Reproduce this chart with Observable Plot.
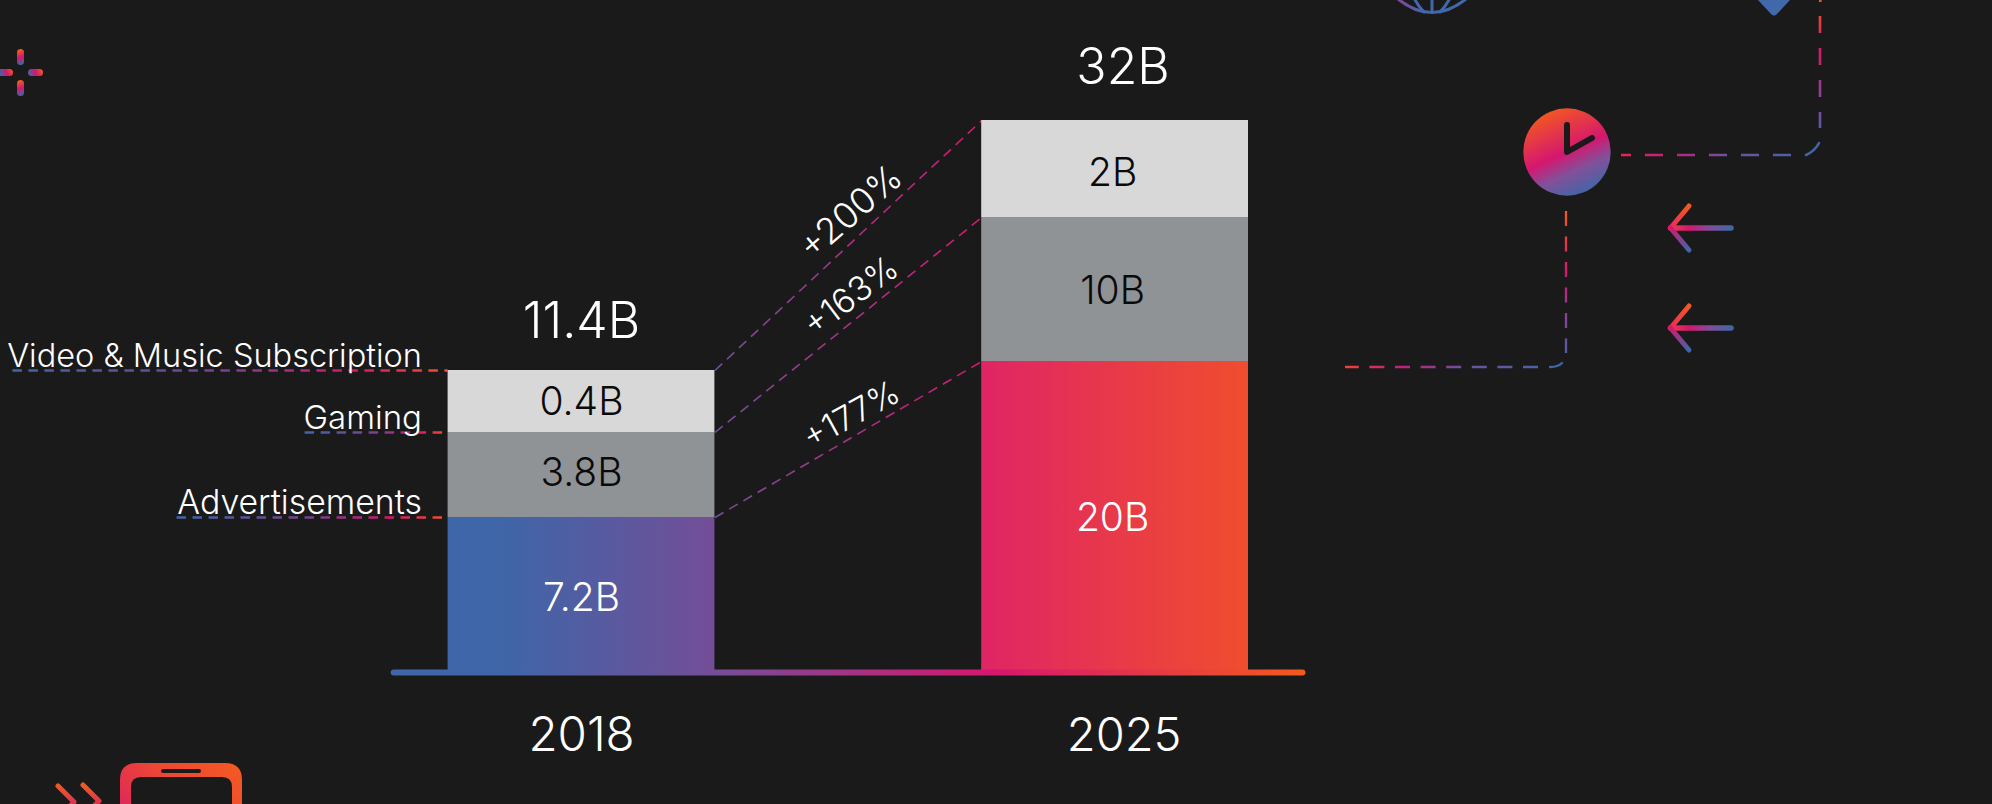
<!DOCTYPE html>
<html>
<head>
<meta charset="utf-8">
<script src="https://cdn.jsdelivr.net/npm/d3@7"></script>
<script src="https://cdn.jsdelivr.net/npm/@observablehq/plot@0.6"></script>
<style>
  html, body { margin: 0; padding: 0; background: #1a1a1a; overflow: hidden; }
  svg { display: block; }
</style>
</head>
<body>
<div id="chart"></div>
<script>
// ---- Data -------------------------------------------------------------
const years = [2018, 2025];
const totals = ["11.4B", "32B"];
const streams = ["Advertisements", "Gaming", "Video & Music Subscription"];
const values2018 = [7.2, 3.8, 0.4];
const values2025 = [20, 10, 2];
const labels2018 = ["7.2B", "3.8B", "0.4B"];
const labels2025 = ["20B", "10B", "2B"];
const growth = ["+177%", "+163%", "+200%"];

// The reference's bars are not to one linear scale: each step of the stack
// has its own slope, which this piecewise value axis reproduces.
const axisValues = [0, 7.2, 11, 11.4, 20, 30, 32];
const axisPixels = [672, 517, 432, 370, 361, 217, 120];

const FONT = "Inter, Lato, sans-serif";
const cum2018 = Array.from(d3.cumsum(values2018));
const cum2025 = Array.from(d3.cumsum(values2025));
const halfBar = 0.25;

const segments = [
  ...values2018.map((v, i) => ({slot: 0, y1: i ? cum2018[i - 1] : 0, y2: cum2018[i], label: labels2018[i], stream: i})),
  ...values2025.map((v, i) => ({slot: 1, y1: i ? cum2025[i - 1] : 0, y2: cum2025[i], label: labels2025[i], stream: i}))
];

// ---- Gradients ---------------------------------------------------------
const BLUE = "#3f66a8", PURPLE = "#744e98", MAGENTA = "#d5176f", ORANGE = "#f3591f";
function linear(id, x1, y1, x2, y2, stops) {
  const g = d3.create("svg:linearGradient").attr("id", id).attr("gradientUnits", "userSpaceOnUse")
    .attr("x1", x1).attr("y1", y1).attr("x2", x2).attr("y2", y2);
  stops.forEach(([o, c]) => g.append("stop").attr("offset", o).attr("stop-color", c));
  return g.node();
}
const defs = () => {
  const d = d3.create("svg:defs");
  const add = (...a) => d.append(() => linear(...a));
  add("gBar", 448, 0, 1248, 0, [[0, "#3e66a8"], [0.07, "#3f66a8"], [0.334, "#744e98"], [0.666, "#df2565"], [1, "#f04d2e"]]);
  add("gAxis", 391, 0, 1304, 0, [[0, BLUE], [0.12, BLUE], [0.355, PURPLE], [0.66, MAGENTA], [1, ORANGE]]);
  add("gConn", 715, 0, 981, 0, [[0, PURPLE], [1, "#d5176f"]]);
  const lead = [[0, BLUE], [0.5, "#7a3f92"], [0.78, MAGENTA], [1, "#f2502a"]];
  add("gLead2", 13, 0, 448, 0, lead);
  add("gLead1", 305, 0, 448, 0, lead);
  add("gLead0", 177, 0, 448, 0, lead);
  add("gClock", 1548, 110, 1586, 194, [[0, "#f3591f"], [0.5, MAGENTA], [0.72, "#82509a"], [1, "#3f66a8"]]);
  add("gPipeAV", 0, 0, 0, 150, [[0, "#f3591f"], [0.35, MAGENTA], [0.65, "#84459a"], [1, BLUE]]);
  add("gPipeAH", 1821, 0, 1621, 0, [[0, BLUE], [0.45, "#6b54a0"], [0.75, "#c0207c"], [1, "#e6264f"]]);
  add("gPipeBV", 0, 211, 0, 367, [[0, "#f3591f"], [0.4, MAGENTA], [0.7, "#84459a"], [1, BLUE]]);
  add("gPipeBH", 1566, 0, 1345, 0, [[0, BLUE], [0.45, "#6b54a0"], [0.75, "#c0207c"], [1, "#f0403a"]]);
  add("gArrowShaft", 1670, 0, 1733, 0, [[0, "#ee3d4c"], [0.3, MAGENTA], [0.65, "#7a4f9b"], [1, BLUE]]);
  [[228, "A"], [328, "B"]].forEach(([y, k]) => {
    add("gHeadUp" + k, 1689, y - 22, 1670, y, [[0, "#f3591f"], [1, "#ea2a5b"]]);
    add("gHeadDn" + k, 1670, y, 1689, y + 22, [[0, "#d5176f"], [1, BLUE]]);
  });
  add("gPhone", 125, 860, 240, 760, [[0, MAGENTA], [0.55, "#ee4635"], [1, "#f45a22"]]);
  add("gChev", 0, 785, 0, 815, [[0, "#f3591f"], [1, MAGENTA]]);
  add("gGlobe", 1397, 0, 1425, 0, [[0, "#84459a"], [1, "#4168ab"]]);
  const spark = [[0.1, "#f3591f"], [0.5, MAGENTA], [0.95, BLUE]];
  add("gSparkT", 18, 49, 23, 65, spark);
  add("gSparkB", 18, 80, 23, 96, spark);
  const sparkH = [[0.05, BLUE], [0.5, MAGENTA], [0.95, "#f3591f"]];
  add("gSparkL", 0, 75, 13, 69, sparkH);
  add("gSparkR", 28, 75, 43, 69, sparkH);
  return d.node();
};

// ---- Decorative icons (not data) ---------------------------------------
const decor = () => {
  const g = d3.create("svg:g").attr("fill", "none").attr("stroke-linecap", "round").attr("stroke-linejoin", "round");
  const path = (d, stroke, w, dash) => {
    const p = g.append("path").attr("d", d).attr("stroke", stroke).attr("stroke-width", w);
    if (dash) p.attr("stroke-dasharray", dash);
    return p;
  };
  // sparkle
  const pill = (x, y, w, h, f) => g.append("rect").attr("x", x).attr("y", y).attr("width", w).attr("height", h)
    .attr("rx", Math.min(w, h) / 2).attr("fill", `url(#${f})`).attr("stroke", "none");
  pill(17, 49, 7, 16, "gSparkT");
  pill(17, 80, 7, 16, "gSparkB");
  pill(-4, 69, 17, 7, "gSparkL");
  pill(28, 69, 15, 7, "gSparkR");
  // phone and chevrons
  g.append("path").attr("fill", "url(#gPhone)").attr("fill-rule", "evenodd").attr("stroke", "none")
    .attr("d", "M137 763H225Q242 763 242 780V830H232V787Q232 777 222 777H141Q131 777 131 787V830H120V780Q120 763 137 763Z");
  g.append("rect").attr("x", 161).attr("y", 769).attr("width", 40).attr("height", 4).attr("rx", 2).attr("fill", "#1a1a1a").attr("stroke", "none");
  path("M58 786L74 802L60 816", "url(#gChev)", 5);
  path("M83 785L99 801L85 815", "url(#gChev)", 5);
  // globe
  path("M1398 -1Q1432 26 1466 -1", "url(#gGlobe)", 3);
  path("M1432 -2V12", "#4168ab", 3);
  path("M1414 -2Q1418 6 1424 12", "#4168ab", 3);
  path("M1450 -2Q1446 6 1440 12", "#4168ab", 3);
  // diamond
  g.append("path").attr("d", "M1758 0L1771 14Q1774 17 1777 14L1790 0L1790 -5L1758 -5Z").attr("fill", "#4168ab").attr("stroke", "none");
  // pipes
  g.append("rect").attr("x", 1819).attr("y", -8).attr("width", 2.6).attr("height", 10).attr("fill", "#f3591f").attr("stroke", "none");
  path("M1820 16V128", "url(#gPipeAV)", 2.6, "17 15").attr("stroke-linecap", "butt");
  path("M1819 143Q1815 151 1806 155", BLUE, 2.6);
  path("M1791 155H1621", "url(#gPipeAH)", 2.6, "18 14").attr("stroke-linecap", "butt");
  path("M1566 211V353", "url(#gPipeBV)", 2.3, "15 10.5").attr("stroke-linecap", "butt");
  path("M1562 363Q1558 367 1550 367", BLUE, 2.3);
  path("M1538 367H1345", "url(#gPipeBH)", 2.3, "15 10.6").attr("stroke-linecap", "butt");
  // clock
  g.append("circle").attr("cx", 1567).attr("cy", 152).attr("r", 43.7).attr("fill", "url(#gClock)").attr("stroke", "none");
  path("M1567 125V152L1592 138", "#1a1a1a", 6);
  // arrows
  [[228, "A"], [328, "B"]].forEach(([y, k]) => {
    path(`M1731 ${y}H1670.5`, "url(#gArrowShaft)", 5.5);
    path(`M1689 ${y - 22}L1670.5 ${y}`, `url(#gHeadUp${k})`, 5);
    path(`M1670.5 ${y}L1689 ${y + 22}`, `url(#gHeadDn${k})`, 5);
  });
  return g.node();
};

// ---- Marks ---------------------------------------------------------------
const leaders = cum2018.map((v, i) => ({y: v, label: streams[i], stream: i}));
const leaderStart = [-0.758, -0.518, -1.0656];
const leaderFontSize = [33.8, 33, 32.5];

const segFill = (d) => (d.stream === 0 ? "url(#gBar)" : d.stream === 1 ? "#909396" : "#d8d8d8");
const segInk = (d) => (d.stream === 0 ? "#ffffff" : "#0a0a0a");

const segmentAnchors = {
  "7.2B": 2.88, "3.8B": 8.6, "0.4B": 11.11,
  "20B": 6.55, "10B": 23.96, "2B": 30.64
};

const growthMark = (label, x, y, rotate, fontSize) =>
  Plot.text([label], {x: () => x, y: () => y, text: (d) => d, rotate, fill: "#fff", fontSize, fontWeight: 300,
    fontFamily: FONT, lineAnchor: "middle", textAnchor: "middle"});

const bigText = (text, x, y, dx, dy, fontSize) =>
  Plot.text([text], {x: () => x, y: () => y, dx, dy, text: (d) => d, fill: "#fff", fontSize, fontWeight: 300,
    fontFamily: FONT, lineAnchor: "bottom"});

const chart = Plot.plot({
  width: 1992,
  height: 804,
  marginTop: 0, marginRight: 0, marginBottom: 0, marginLeft: 0,
  style: {background: "#1a1a1a", overflow: "hidden"},
  x: {type: "linear", domain: [-0.25, 1.25], range: [447.6, 1248], axis: null},
  y: {type: "linear", domain: axisValues, range: axisPixels, axis: null},
  color: {type: "identity"},
  marks: [
    defs,
    decor,
    // connectors between the two stacks
    Plot.link(cum2018.map((v, i) => ({x1: halfBar, x2: 1 - halfBar, y1: v, y2: cum2025[i]})), {
      x1: "x1", x2: "x2", y1: "y1", y2: "y2",
      stroke: "url(#gConn)", strokeWidth: 1.6, strokeDasharray: "10 6.5"
    }),
    // leader lines
    ...leaders.map((d, i) => Plot.ruleY([d.y], {
      x1: () => leaderStart[i],
      x2: () => -halfBar,
      stroke: `url(#gLead${i})`,
      strokeWidth: 2.4, strokeDasharray: "9.5 6.5"
    })),
    // bars
    Plot.rectY(segments, {
      x1: (d) => d.slot - halfBar, x2: (d) => d.slot + halfBar,
      y1: "y1", y2: "y2", fill: segFill
    }),
    // baseline
    Plot.ruleY([0], {x1: () => -0.351, x2: () => 1.352, stroke: "url(#gAxis)", strokeWidth: 6, strokeLinecap: "round"}),
    // segment labels
    Plot.text(segments, {
      x: (d) => d.slot - d.slot * 0.0047, y: (d) => segmentAnchors[d.label], text: "label",
      fill: segInk, fontSize: 39, fontWeight: 300, fontFamily: FONT, lineAnchor: "bottom"
    }),
    // totals
    bigText(totals[0], 0, cum2018[2], 0, -33, 50),
    bigText(totals[1], 1, cum2025[2], 8, -37, 50),
    // year labels
    bigText(String(years[0]), 0, 0, 0, 78, 47.5),
    bigText(String(years[1]), 1, 0, 9, 78, 47),
    // stream labels
    ...leaders.map((d, i) => Plot.text([d], {
      x: () => -0.299, y: "y", dy: -4, text: "label", fill: "#fff", fontSize: leaderFontSize[i], fontWeight: 300,
      fontFamily: FONT, textAnchor: "end", lineAnchor: "bottom"
    })),
    // growth labels
    growthMark(growth[2], 0.505, 30.1, -41, 36),
    growthMark(growth[1], 0.505, 24.5, -37, 34),
    growthMark(growth[0], 0.506, 11.11, -29, 33.5)
  ]
});
document.getElementById("chart").append(chart);
</script>
</body>
</html>
